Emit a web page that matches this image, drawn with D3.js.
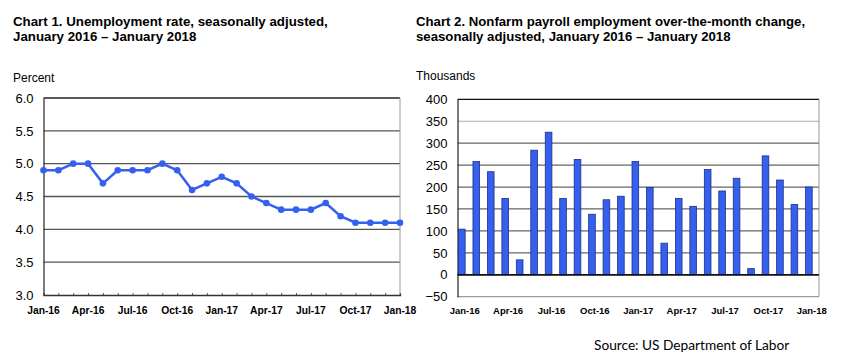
<!DOCTYPE html>
<html>
<head>
<meta charset="utf-8">
<script src="https://cdn.jsdelivr.net/npm/d3@7"></script>
<style>
  body { margin: 0; background: #fff; }
  svg text { font-family: "Liberation Sans", Arial, sans-serif; fill: #000; }
</style>
</head>
<body>
<div id="chart"></div>
<script>
// Months Jan-16 .. Jan-18
const months = ["Jan-16","Feb-16","Mar-16","Apr-16","May-16","Jun-16","Jul-16","Aug-16","Sep-16","Oct-16","Nov-16","Dec-16",
  "Jan-17","Feb-17","Mar-17","Apr-17","May-17","Jun-17","Jul-17","Aug-17","Sep-17","Oct-17","Nov-17","Dec-17","Jan-18"];
const tickMonths = ["Jan-16","Apr-16","Jul-16","Oct-16","Jan-17","Apr-17","Jul-17","Oct-17","Jan-18"];

// Chart 1: unemployment rate (percent)
const unemployment = [4.9, 4.9, 5.0, 5.0, 4.7, 4.9, 4.9, 4.9, 5.0, 4.9, 4.6, 4.7,
  4.8, 4.7, 4.5, 4.4, 4.3, 4.3, 4.3, 4.4, 4.2, 4.1, 4.1, 4.1, 4.1];
const rateTicks = [3.0, 3.5, 4.0, 4.5, 5.0, 5.5, 6.0];

// Chart 2: payroll change (thousands)
const payroll = [104, 258, 235, 174, 34, 284, 325, 174, 263, 138, 171, 179,
  258, 199, 72, 174, 156, 240, 191, 220, 14, 271, 216, 160, 200];
const payrollTicks = [-50, 0, 50, 100, 150, 200, 250, 300, 350, 400];

const blue = "#3560ee";

const svg = d3.select("#chart").append("svg")
  .attr("width", 851)
  .attr("height", 363);

// ---- Titles
function title(x, lines, size) {
  const t = svg.append("text")
    .attr("x", x).attr("y", 26)
    .style("font-size", size + "px").style("font-weight", "bold");
  lines.forEach((l, i) => t.append("tspan").attr("x", x).attr("dy", i ? 15 : 0).text(l));
}
title(13, ["Chart 1. Unemployment rate, seasonally adjusted,", "January 2016 \u2013 January 2018"], 13.3);
title(416, ["Chart 2. Nonfarm payroll employment over-the-month change,", "seasonally adjusted, January 2016 \u2013 January 2018"], 13.2);

// ---- Chart 1
const x1 = d3.scalePoint().domain(months).range([43.5, 400]);
const y1 = d3.scaleLinear().domain([3, 6]).range([295, 98]);

const g1 = svg.append("g");

g1.append("text").attr("x", 13).attr("y", 82).style("font-size", "12px").text("Percent");

g1.selectAll(".grid1")
  .data(rateTicks.filter(d => d > 3))
  .enter().append("line")
  .attr("x1", x1.range()[0]).attr("x2", 400)
  .attr("y1", d => y1(d)).attr("y2", d => y1(d))
  .attr("stroke", d => d === 6 ? "#222" : "#555")
  .attr("stroke-width", 1.3);

// right border
g1.append("line")
  .attr("x1", 400).attr("x2", 400).attr("y1", y1(6)).attr("y2", y1(3))
  .attr("stroke", "#999");

const yAxis1 = g1.append("g")
  .attr("transform", `translate(${x1.range()[0]},0)`)
  .call(d3.axisLeft(y1).tickValues(rateTicks).tickFormat(d3.format(".1f")).tickSize(0).tickPadding(10));
yAxis1.select(".domain").attr("stroke", "#333").attr("stroke-width", 1.3);
yAxis1.selectAll("text").style("font-size", "13px").style("font-family", "'Liberation Sans', Arial, sans-serif");

const xAxis1 = g1.append("g")
  .attr("transform", `translate(0,${y1(3)})`)
  .call(d3.axisTop(x1).tickSize(2).tickFormat(""));
xAxis1.select(".domain").attr("stroke", "#333").attr("stroke-width", 1.3);
xAxis1.selectAll(".tick line").attr("stroke", "#555");

g1.selectAll(".xl1")
  .data(tickMonths)
  .enter().append("text")
  .attr("x", d => x1(d)).attr("y", 314)
  .attr("text-anchor", "middle")
  .style("font-size", "10.3px").style("font-weight", "bold")
  .text(d => d);

const line = d3.line()
  .x((d, i) => x1(months[i]))
  .y(d => y1(d));

g1.append("path")
  .datum(unemployment)
  .attr("d", line)
  .attr("fill", "none")
  .attr("stroke", blue)
  .attr("stroke-width", 2.5);

g1.selectAll(".pt")
  .data(unemployment)
  .enter().append("circle")
  .attr("cx", (d, i) => x1(months[i]))
  .attr("cy", d => y1(d))
  .attr("r", 3.3)
  .attr("fill", blue);

// ---- Chart 2
const x2 = d3.scaleBand().domain(months).range([457.5, 819]);
const y2 = d3.scaleLinear().domain([-50, 400]).range([296.7, 99.3]);

const g2 = svg.append("g");

g2.append("text").attr("x", 416).attr("y", 80).style("font-size", "12px").text("Thousands");

g2.selectAll(".grid2")
  .data(payrollTicks.filter(d => d > -50))
  .enter().append("line")
  .attr("x1", 457.5).attr("x2", 819)
  .attr("y1", d => y2(d)).attr("y2", d => y2(d))
  .attr("stroke", d => d === 400 || d === 0 ? "#111" : d === 350 ? "#aaa" : "#666")
  .attr("stroke-width", d => d === 0 ? 1.5 : 1.2);

g2.append("line")
  .attr("x1", 457.5).attr("x2", 819).attr("y1", y2(-50)).attr("y2", y2(-50))
  .attr("stroke", "#999").attr("stroke-width", 1.3);
g2.append("line")
  .attr("x1", 819).attr("x2", 819).attr("y1", y2(400)).attr("y2", y2(-50))
  .attr("stroke", "#999");

const yAxis2 = g2.append("g")
  .attr("transform", "translate(457.5,0)")
  .call(d3.axisLeft(y2).tickValues(payrollTicks).tickSize(0).tickPadding(10));
yAxis2.select(".domain").attr("stroke", "#333").attr("stroke-width", 1.3);
yAxis2.selectAll("text").style("font-size", "13px").style("font-family", "'Liberation Sans', Arial, sans-serif");

g2.selectAll(".bar")
  .data(payroll)
  .enter().append("rect")
  .attr("class", "bar")
  .attr("x", (d, i) => x2(months[i]) + 1)
  .attr("width", x2.bandwidth() * 0.46)
  .attr("y", d => y2(Math.max(0, d)))
  .attr("height", d => Math.abs(y2(d) - y2(0)))
  .attr("fill", blue)
  .attr("stroke", "#1d2f8a")
  .attr("stroke-width", 0.8);

// redraw zero line over bars
g2.append("line")
  .attr("x1", 457.5).attr("x2", 819).attr("y1", y2(0)).attr("y2", y2(0))
  .attr("stroke", "#111").attr("stroke-width", 1.5);

g2.selectAll(".xl2")
  .data(tickMonths)
  .enter().append("text")
  .attr("x", d => x2(d) + x2.bandwidth() / 2).attr("y", 314)
  .attr("text-anchor", "middle")
  .style("font-size", "9.5px").style("font-weight", "bold")
  .text(d => d);

// ---- Source
svg.append("text")
  .attr("x", 594).attr("y", 350)
  .style("font-family", "Lato, 'Open Sans', sans-serif")
  .style("font-size", "13.7px")
  .text("Source: US Department of Labor");
</script>
</body>
</html>
